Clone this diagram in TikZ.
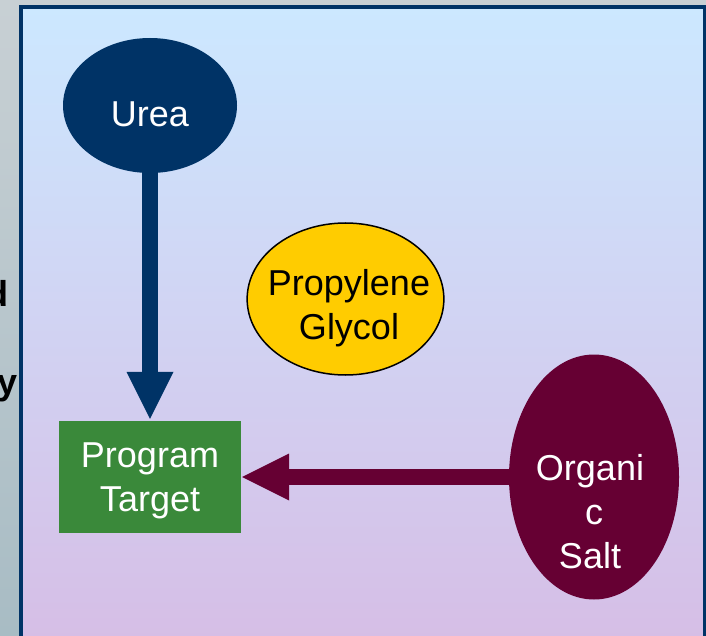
\documentclass[tikz,border=0pt]{standalone}
\usepackage{fontspec}
\setmainfont{Liberation Sans}
\usetikzlibrary{shapes.geometric,arrows.meta}
\definecolor{outertop}{RGB}{200,208,212}
\definecolor{outerbot}{RGB}{168,188,196}
\definecolor{paneltop}{RGB}{204,232,255}
\definecolor{panelbot}{RGB}{214,190,230}
\definecolor{ureablue}{RGB}{0,51,102}
\definecolor{pgyellow}{RGB}{255,204,0}
\definecolor{targetgreen}{RGB}{58,137,58}
\definecolor{saltred}{RGB}{102,0,51}
\begin{document}
\begin{tikzpicture}[x=1pt,y=1pt,
  lbl/.style={font=\fontsize{36}{44}\selectfont, align=center, inner sep=0pt},
  frag/.style={font=\bfseries\fontsize{36}{44}\selectfont, inner sep=0pt, text=black},
  fat/.style={line width=16pt, -{Triangle[length=47pt,width=47pt,line width=0pt 0 0]}}]
\useasboundingbox (0,0) rectangle (706,-636);
\shade[top color=outertop, bottom color=outerbot] (0,0) rectangle (706,-636);
\node[frag, anchor=base east] (fragd) at (8.5,-306.5) {d};
\node[frag, anchor=base east] (fragy) at (18,-394) {y};
\draw[top color=paneltop, bottom color=panelbot, draw=ureablue, line width=4pt]
  (21,-7) rectangle (705,-640);
\node[lbl, ellipse, fill=ureablue, text=white, minimum width=174pt, minimum height=135pt,
  text height=46pt, text depth=3pt] (urea) at (150,-105.5) {Urea};
\node[lbl, ellipse, fill=pgyellow, draw=black, line width=1.5pt, text=black,
  minimum width=195pt, minimum height=152pt, inner xsep=-15pt,
  text height=82pt, text depth=2pt] (pg) at (345.5,-299)
  {\hspace*{7pt}Propylene\\\hspace*{7pt}Glycol};
\node[lbl, rectangle, fill=targetgreen, text=white, minimum width=182pt, minimum height=112pt,
  text height=72pt, text depth=4pt] (target) at (150,-477) {Program\\Target};
\node[lbl, ellipse, fill=saltred, text=white, minimum width=170pt, minimum height=245pt,
  inner ysep=-12pt, text height=184pt, text depth=2pt] (salt) at (594,-477)
  {Organi\hspace*{8pt}\\c\hspace*{8pt}\\Salt\hspace*{8pt}};
\draw[fat, ureablue, shorten <=-3pt, shorten >=2pt] (urea.south) -- (target.north);
\draw[fat, saltred, shorten <=-3pt, shorten >=1pt] (salt.west) -- (target.east);
\end{tikzpicture}
\end{document}
